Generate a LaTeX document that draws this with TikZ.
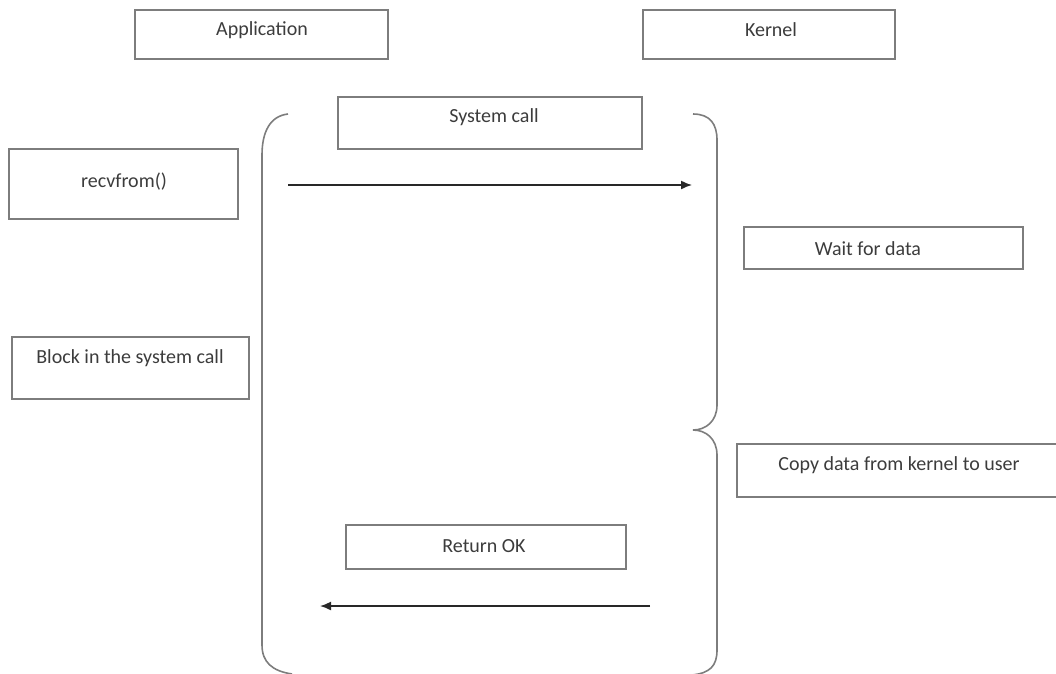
\documentclass[tikz,border=0pt]{standalone}
\usepackage{fontspec}
\setmainfont{Carlito}
\usetikzlibrary{arrows.meta}
\definecolor{frame}{RGB}{125,125,125}
\definecolor{ink}{RGB}{60,60,60}
\definecolor{arrowink}{RGB}{40,40,40}
\tikzset{
  box/.style={draw=frame, line width=1.6pt, inner sep=0pt},
  openbox/.style={inner sep=0pt},
  txt/.style={text=ink, font=\fontsize{20}{24}\selectfont, inner sep=0pt},
  brace/.style={draw=frame, line width=1.6pt},
  flow/.style={draw=arrowink, line width=1.5pt, -{Latex[length=11pt,width=9pt]}}
}
\begin{document}
\begin{tikzpicture}[x=1pt,y=-1pt]
\useasboundingbox (0,0) rectangle (1056,673);

% boxes (centre, width, height)
\node[box, minimum width=253pt, minimum height=49pt] (app)   at (261.5,34.5)  {};
\node[box, minimum width=252pt, minimum height=49pt] (kern)  at (769,34.5)    {};
\node[box, minimum width=304pt, minimum height=52pt] (sys)   at (490,123)     {};
\node[box, minimum width=229pt, minimum height=70pt] (recv)  at (123.5,184)   {};
\node[box, minimum width=279pt, minimum height=42pt] (wait)  at (883.5,248)   {};
\node[box, minimum width=237pt, minimum height=62pt] (block) at (130.5,368)   {};
\node[box, minimum width=280pt, minimum height=44pt] (ret)   at (486,547)     {};
\node[openbox, minimum width=319pt, minimum height=53pt] (copy) at (896.5,470.5) {};
\draw[box] (copy.north east) -- (copy.north west) -- (copy.south west) -- (copy.south east);

% labels
\node[txt] (app-t)   at (262,30)  {Application};
\node[txt] (kern-t)  at (771,30)  {Kernel};
\node[txt] (sys-t)   at (494,117) {System call};
\node[txt] (recv-t)  at (124,182) {recvfrom()};
\node[txt] (wait-t)  at (868,249) {Wait for data};
\node[txt] (block-t) at (130,358) {Block in the system call};
\node[txt] (copy-t)  at (899,465) {Copy data from kernel to user};
\node[txt] (ret-t)   at (484,546) {Return OK};

% application side bracket
\draw[brace] (288,114) .. controls (270,116) and (262,132) .. (262,155)
  -- (262,645) .. controls (262,662) and (272,671) .. (292,674);

% kernel side brace, split where waiting ends and copying starts
\draw[brace] (693,114) .. controls (710,114) and (717,124) .. (717,140)
  -- (717,405) .. controls (717,421) and (706,430) .. (693,430)
  .. controls (706,430) and (717,439) .. (717,455)
  -- (717,650) .. controls (717,666) and (710,673) .. (692,675);

% calls
\coordinate (callA) at (288,185);
\coordinate (callB) at (692,185);
\coordinate (retA)  at (650,606);
\coordinate (retB)  at (320,606);
\draw[flow] (callA) -- (callB);
\draw[flow] (retA) -- (retB);
\end{tikzpicture}
\end{document}
